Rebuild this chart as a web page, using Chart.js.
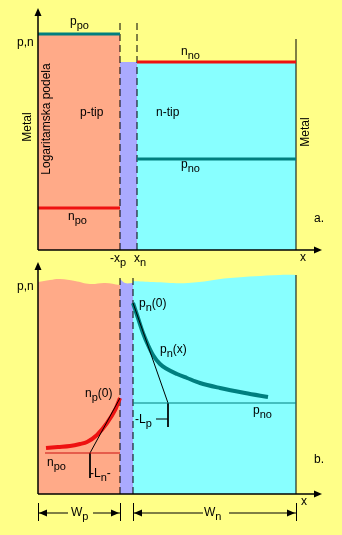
<!DOCTYPE html>
<html><head><meta charset="utf-8">
<script src="https://cdn.jsdelivr.net/npm/chart.js@4/dist/chart.umd.min.js"></script>
<style>html,body{margin:0;padding:0;background:#ffff88;overflow:hidden}canvas{display:block}</style>
</head><body>
<canvas id="c" width="342" height="535"></canvas>
<script>
// ===== Panel a: p-n junction, equilibrium (x = position, y = log concentration) =====
const edgesA = [0, 8.2, 9.9, 25.8];          // left metal, -xp, xn, right metal
const levelsA = [21.6, 18.8, 9.1, 4.2];      // p_po, n_no, p_no, n_po
const dashTopA = 23.1;                       // top of the depletion boundary marks
const metalTopA = 21.1;
// ===== Panel b: injected minority carriers =====
const edgesB = [0, 8.2, 9.5, 25.8];
const surfPX = [0, 1.2, 2.2, 3.7, 5.2, 6.7, 8.2];
const surfPY = [21.2, 21.4, 21.5, 21.3, 21.0, 21.1, 20.9];
const surfIX = [8.2, 8.7, 9.5];
const surfIY = [21.5, 21.1, 21.1];
const surfNX = [9.5, 11.5, 15.0, 19.2, 24.2, 25.8];
const surfNY = [21.3, 21.2, 21.1, 21.6, 21.9, 21.9];
const pnX = [9.5, 10.0, 10.5, 11.0, 11.5, 12.2, 12.9, 13.9, 14.9, 16.2, 18.2, 20.7, 23.0];
const pnY = [19.1, 17.6, 16.1, 14.9, 13.9, 13.0, 12.5, 12.0, 11.6, 11.1, 10.6, 10.1, 9.7];
const npX = [0.8, 2.0, 3.2, 4.2, 4.9, 5.9, 6.9, 7.7, 8.2];
const npY = [4.6, 4.7, 4.8, 5.0, 5.2, 5.9, 7.1, 8.4, 9.6];
const levelsB = [9.1, 4.1];                  // p_no, n_po
const nPoStartB = 0.7;
const lpX = [9.5, 13.0, 13.0], lpY = [19.1, 9.1, 6.7];   // tangent -> L_p
const lnX = [8.2, 5.2, 5.2],  lnY = [9.6, 4.1, 1.6];     // tangent -> L_n
const dashTopB = 21.8, metalTopB = 21.9;

const COL = {salmon:'#ffaa88', lav:'#aaaaff', cyan:'#88ffff', teal:'#007f7f', red:'#ee1111', dark:'#000'};
const FONT = '"Liberation Sans", Arial, sans-serif';

const pts = (xs, ys) => xs.map((x, i) => ({x, y: ys[i]}));
const hline = (x1, x2, y) => [{x:x1, y}, {x:x2, y}];
const vline = (x, y1, y2) => [{x, y:y1}, {x, y:y2}];
function ds(data, axis, o) {
  return Object.assign({data, yAxisID: axis, pointRadius: 0, borderWidth: 0, fill: false,
    tension: 0, borderColor: 'rgba(0,0,0,0)', clip: false}, o);
}
const thin = {borderColor: COL.dark, borderWidth: 1};
const dashed = {borderColor: COL.dark, borderWidth: 1, borderDash: [7, 4]};

const datasets = [
  // panel a regions and levels
  ds(hline(edgesA[0], edgesA[1], levelsA[0]), 'y', {fill:'origin', backgroundColor: COL.salmon, borderColor: COL.teal, borderWidth: 3}),
  ds(hline(edgesA[1], edgesA[2], levelsA[1]), 'y', {fill:'origin', backgroundColor: COL.lav}),
  ds(hline(edgesA[2], edgesA[3], levelsA[1]), 'y', {fill:'origin', backgroundColor: COL.cyan, borderColor: COL.red, borderWidth: 3}),
  ds(hline(edgesA[2], edgesA[3], levelsA[2]), 'y', {borderColor: COL.teal, borderWidth: 3}),
  ds(hline(edgesA[0], edgesA[1], levelsA[3]), 'y', {borderColor: COL.red, borderWidth: 3}),
  ds(vline(edgesA[1], 0, dashTopA), 'y', dashed),
  ds(vline(edgesA[2], 0, dashTopA), 'y', dashed),
  ds(vline(edgesA[3], 0, metalTopA), 'y', thin),
  // panel b regions
  ds(pts(surfPX, surfPY), 'y2', {fill:'origin', backgroundColor: COL.salmon, tension: 0.4}),
  ds(pts(surfIX, surfIY), 'y2', {fill:'origin', backgroundColor: COL.lav, tension: 0.4}),
  ds(pts(surfNX, surfNY), 'y2', {fill:'origin', backgroundColor: COL.cyan, tension: 0.4}),
  ds(hline(edgesB[2], edgesB[3], levelsB[0]), 'y2', {borderColor: COL.teal, borderWidth: 1}),
  ds(hline(nPoStartB, edgesB[1], levelsB[1]), 'y2', {borderColor: '#cc1111', borderWidth: 1}),
  ds(pts(lpX, lpY), 'y2', thin),
  ds(pts(lnX, lnY), 'y2', thin),
  ds(pts(pnX, pnY), 'y2', {borderColor: COL.teal, borderWidth: 4, cubicInterpolationMode: 'monotone'}),
  ds(pts(npX, npY), 'y2', {borderColor: COL.red, borderWidth: 4, cubicInterpolationMode: 'monotone'}),
  ds(vline(edgesB[1], 0, dashTopB), 'y2', dashed),
  ds(vline(edgesB[2], 0, dashTopB), 'y2', dashed),
  ds(vline(edgesB[3], 0, metalTopB), 'y2', thin)
];

// text annotations: parts = [text, isSubscript]
const textA = [
  {parts:[['p,n']], x:-2.1, y:20.4},
  {parts:[['p'],['po',1]], x:3.2, y:22.55},
  {parts:[['n'],['no',1]], x:14.3, y:19.5},
  {parts:[['p-tip']], x:4.2, y:13.4},
  {parts:[['n-tip']], x:11.8, y:13.4},
  {parts:[['p'],['no',1]], x:14.3, y:8.2},
  {parts:[['n'],['po',1]], x:3.0, y:3.05},
  {parts:[['-x'],['p',1]], x:7.2, y:-1.2},
  {parts:[['x'],['n',1]], x:9.6, y:-1.2},
  {parts:[['x']], x:26.2, y:-1.1},
  {parts:[['a.']], x:27.6, y:2.8}
];
const rotA = [
  {text:'Metal', x:-1.0, y:12.3},
  {text:'Logaritamska podela', x:0.9, y:13.1},
  {text:'Metal', x:26.8, y:11.8}
];
const textB = [
  {parts:[['p,n']], x:-2.1, y:20.4},
  {parts:[['p'],['n',1],['(0)']], x:10.1, y:18.7},
  {parts:[['p'],['n',1],['(x)']], x:12.2, y:14.1},
  {parts:[['p'],['no',1]], x:21.5, y:8.0},
  {parts:[['n'],['p',1],['(0)']], x:4.7, y:9.7},
  {parts:[['n'],['po',1]], x:0.9, y:2.8},
  {parts:[['-L'],['n',1],['-']], x:5.2, y:1.7},
  {parts:[['-L'],['p',1]], x:9.7, y:7.1},
  {parts:[['W'],['p',1]], x:3.3, y:-2.2},
  {parts:[['W'],['n',1]], x:16.6, y:-2.2},
  {parts:[['x']], x:26.3, y:-1.1},
  {parts:[['b.']], x:27.6, y:3.1}
];
const axisTipA = [28.4, 24.2], axisTipB = [28.4, 23.2];
const dimY = -1.9, dimTick = [-0.9, -2.7];
const dimSegs = [[edgesB[0], 3.0], [5.5, edgesB[1]], [edgesB[2], 16.5], [19.1, edgesB[3]]];
const lpTail = [[11.8, 13.0], 7.5];

function drawParts(ctx, parts, px, py) {
  let cx = px;
  for (const [t, sub] of parts) {
    ctx.font = (sub ? '11px ' : '12px ') + FONT;
    ctx.fillText(t, cx, py + (sub ? 4 : 0));
    cx += ctx.measureText(t).width;
  }
}
function arrowHead(ctx, x, y, dir) {
  ctx.beginPath();
  if (dir === 'up') { ctx.moveTo(x, y); ctx.lineTo(x - 3.5, y + 8); ctx.lineTo(x + 3.5, y + 8); }
  if (dir === 'right') { ctx.moveTo(x, y); ctx.lineTo(x - 8, y - 3.5); ctx.lineTo(x - 8, y + 3.5); }
  if (dir === 'left') { ctx.moveTo(x, y); ctx.lineTo(x + 8, y - 3.5); ctx.lineTo(x + 8, y + 3.5); }
  ctx.closePath(); ctx.fill();
}
function line(ctx, x1, y1, x2, y2) { ctx.beginPath(); ctx.moveTo(x1, y1); ctx.lineTo(x2, y2); ctx.stroke(); }

const deco = {
  id: 'deco',
  afterDatasetsDraw(chart) {
    const {ctx, scales: {x, y, y2}} = chart;
    ctx.save();
    ctx.strokeStyle = '#000'; ctx.fillStyle = '#000';
    // axes
    ctx.lineWidth = 1.5;
    for (const [sy, tip] of [[y, axisTipA], [y2, axisTipB]]) {
      const x0 = x.getPixelForValue(0), y0 = sy.getPixelForValue(0);
      line(ctx, x0, y0, x.getPixelForValue(tip[0]) - 4, y0);
      line(ctx, x0, y0, x0, sy.getPixelForValue(tip[1]) + 4);
      arrowHead(ctx, x.getPixelForValue(tip[0]), y0, 'right');
      arrowHead(ctx, x0, sy.getPixelForValue(tip[1]), 'up');
    }
    // dimension lines W_p, W_n
    ctx.lineWidth = 1;
    const dy = y2.getPixelForValue(dimY);
    for (const e of [edgesB[0], edgesB[1], edgesB[2], edgesB[3]]) {
      const px = Math.round(x.getPixelForValue(e)) + 0.5;
      line(ctx, px, y2.getPixelForValue(dimTick[0]), px, y2.getPixelForValue(dimTick[1]));
    }
    for (const [a, b] of dimSegs) line(ctx, x.getPixelForValue(a), dy, x.getPixelForValue(b), dy);
    arrowHead(ctx, x.getPixelForValue(edgesB[0]) + 1, dy, 'left');
    arrowHead(ctx, x.getPixelForValue(edgesB[1]) - 1, dy, 'right');
    arrowHead(ctx, x.getPixelForValue(edgesB[2]) + 1, dy, 'left');
    arrowHead(ctx, x.getPixelForValue(edgesB[3]) - 1, dy, 'right');
    // L_p tail
    line(ctx, x.getPixelForValue(lpTail[0][0]), y2.getPixelForValue(lpTail[1]), x.getPixelForValue(lpTail[0][1]), y2.getPixelForValue(lpTail[1]));
    // texts
    ctx.textBaseline = 'alphabetic'; ctx.textAlign = 'left';
    for (const t of textA) drawParts(ctx, t.parts, x.getPixelForValue(t.x), y.getPixelForValue(t.y));
    for (const t of textB) drawParts(ctx, t.parts, x.getPixelForValue(t.x), y2.getPixelForValue(t.y));
    ctx.font = '12px ' + FONT; ctx.textAlign = 'center'; ctx.textBaseline = 'middle';
    for (const r of rotA) {
      ctx.save();
      ctx.translate(x.getPixelForValue(r.x), y.getPixelForValue(r.y));
      ctx.rotate(-Math.PI / 2);
      ctx.fillText(r.text, 0, 0);
      ctx.restore();
    }
    ctx.restore();
  }
};

new Chart(document.getElementById('c'), {
  type: 'line',
  data: {datasets},
  options: {
    responsive: false, animation: false, devicePixelRatio: 1,
    layout: {padding: 0},
    plugins: {legend: {display: false}, tooltip: {enabled: false}, filler: {drawTime: 'beforeDatasetsDraw'}},
    scales: {
      x: {type: 'linear', min: -3.8, max: 30.4, display: false},
      y: {type: 'linear', min: -28.5, max: 25.0, display: false},
      y2: {type: 'linear', min: -4.1, max: 49.4, display: false}
    }
  },
  plugins: [deco]
});
</script>
</body></html>
